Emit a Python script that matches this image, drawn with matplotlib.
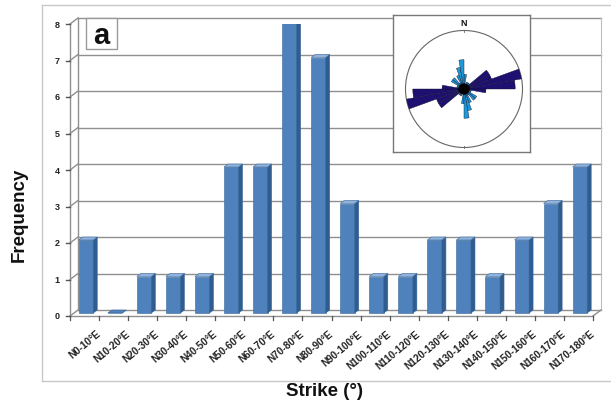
import numpy as np
import matplotlib
matplotlib.use("Agg")
import matplotlib.pyplot as plt
from matplotlib.patches import Polygon, Rectangle, Circle
from matplotlib.lines import Line2D

plt.rcParams['font.family'] = ['Liberation Sans', 'DejaVu Sans']

# ---------------- data ----------------
categories = ["N0-10°E", "N10-20°E", "N20-30°E", "N30-40°E", "N40-50°E", "N50-60°E",
              "N60-70°E", "N70-80°E", "N80-90°E", "N90-100°E", "N100-110°E", "N110-120°E",
              "N120-130°E", "N130-140°E", "N140-150°E", "N150-160°E", "N160-170°E", "N170-180°E"]
frequency = [2, 0, 1, 1, 1, 4, 4, 8, 7, 3, 1, 1, 2, 2, 1, 2, 3, 4]
bin_start_deg = [0, 10, 20, 30, 40, 50, 60, 70, 80, 90, 100, 110, 120, 130, 140, 150, 160, 170]
dark_set = [50, 60, 70, 80, 90]   # bins drawn in the dark colour of the rose
y_ticks = [0, 1, 2, 3, 4, 5, 6, 7, 8]

W, H = 611, 406
fig = plt.figure(figsize=(W / 100, H / 100), dpi=100)

def fx(px): return px / W
def fy(py): return 1 - py / H

# outer frame
frame_col = '#c8c8c8'
fig.add_artist(Line2D([fx(42), fx(42)], [fy(6), fy(382)], color=frame_col, lw=1.0))
fig.add_artist(Line2D([fx(42), 1], [fy(6), fy(6)], color=frame_col, lw=1.0))
fig.add_artist(Line2D([fx(42), 1], [fy(382), fy(382)], color=frame_col, lw=1.0))

# main axes = front plane
ax = fig.add_axes([fx(70), fy(317), (593 - 70) / W, (317 - 25) / H])
x0, x1 = -0.55, 17.45
ax.set_xlim(x0, x1)
ax.set_ylim(0, 8)
ax.patch.set_alpha(0)
for s in ax.spines.values():
    s.set_visible(False)

grid_col = '#8f8f8f'
ppx = (593 - 70) / 18.0   # px per category
ppy = (317 - 25) / 8.0    # px per unit
dxw, dyw = 8 / ppx, 6 / ppy  # wall depth

def L(xs, ys, **kw):
    ax.add_line(Line2D(xs, ys, clip_on=False, **kw))

for y in y_ticks:
    L([x0 + dxw, x1 + dxw], [y + dyw, y + dyw], color=grid_col, lw=1.0, zorder=1)
    L([x0, x0 + dxw], [y, y + dyw], color=grid_col, lw=1.0, zorder=1)
L([x0 + dxw, x0 + dxw], [dyw, 8 + dyw], color=grid_col, lw=1.0, zorder=1)
L([x1 + dxw, x1 + dxw], [dyw, 8 + dyw], color='#bdbdbd', lw=0.8, zorder=1)
L([x0, x0], [0, 8], color=grid_col, lw=1.0, zorder=1)
L([x0, x1], [0, 0], color=grid_col, lw=1.0, zorder=1)
L([x1, x1 + dxw], [0, dyw], color=grid_col, lw=1.0, zorder=1)

# y ticks
for y in y_ticks:
    L([x0 - 4 / ppx, x0], [y, y], color='#555555', lw=1.0, zorder=1)
    ax.text(x0 - 10 / ppx, y, str(y), ha='right', va='center', fontsize=6.5,
            fontweight='bold', color='#222222')
ax.set_xticks([])
ax.set_yticks([])

# x ticks at category boundaries
for i in range(len(categories) + 1):
    xb = x0 + i
    L([xb, xb], [0, -4 / ppy], color='#555555', lw=0.9, zorder=1)

# x tick labels
for i, lab in enumerate(categories):
    ax.text(i + 10 / ppx, -12 / ppy, lab, rotation=40, ha='right', va='top',
            rotation_mode='anchor', fontsize=7.2, fontweight='bold', color='#222222')

# 3D bars
front_c = '#4f81bd'
side_c = '#2f5d8f'
top_c = '#8fb3de'
edge_c = '#3a6798'
bw = 0.5
dxb, dyb = 4 / ppx, 3 / ppy
yoff = 3 / ppy
xs = np.arange(len(categories))
bars = ax.bar(xs, frequency, width=bw, bottom=yoff, color=front_c, edgecolor=edge_c,
              linewidth=0.4, zorder=3)
for xi, v in zip(xs, frequency):
    l, r = xi - bw / 2, xi + bw / 2
    b, t = yoff, yoff + v
    side = Polygon([[r, b], [r + dxb, b + dyb], [r + dxb, t + dyb], [r, t]],
                   closed=True, facecolor=side_c, edgecolor=edge_c, lw=0.4, zorder=3)
    top = Polygon([[l, t], [r, t], [r + dxb, t + dyb], [l + dxb, t + dyb]],
                  closed=True, facecolor=top_c if v > 0 else front_c, edgecolor=edge_c,
                  lw=0.4, zorder=4)
    ax.add_patch(side)
    ax.add_patch(top)

# axis labels
fig.text(fx(19), fy(215), "Frequency", rotation=90, ha='center', va='center',
         fontsize=13.5, fontweight='bold', color='#111111')
fig.text(fx(324), fy(392), "Strike (°)", ha='center', va='center',
         fontsize=13.5, fontweight='bold', color='#111111')

# "a" box
fig.add_artist(Rectangle((fx(86), fy(50)), (117 - 86) / W, (50 - 19) / H,
                         transform=fig.transFigure, facecolor='white',
                         edgecolor='#9a9a9a', lw=1.0, zorder=5))
fig.text(fx(101.5), fy(36), "a", ha='center', va='center', fontsize=21,
         fontweight='bold', color='#111111', zorder=6)

# inset box
box = fig.add_axes([fx(393), fy(153), (530 - 393) / W, (153 - 16) / H])
box.set_xticks([]); box.set_yticks([])
box.set_facecolor('white')
for s in box.spines.values():
    s.set_edgecolor('#777777'); s.set_linewidth(1.0)

cx, cy, R = 464, 90, 58.5
pax = fig.add_axes([fx(cx - R), fy(cy + R), 2 * R / W, 2 * R / H], projection='polar')
pax.set_theta_zero_location('N')
pax.set_theta_direction(-1)
pax.set_ylim(0, 1)
pax.set_xticks([]); pax.set_yticks([])
pax.grid(False)
pax.spines['polar'].set_edgecolor('#666666')
pax.spines['polar'].set_linewidth(0.8)
pax.patch.set_alpha(0)

fmax = max(frequency)
for a, v in zip(bin_start_deg, frequency):
    if v == 0:
        continue
    col = '#1e1070' if a in dark_set else '#1f9ad8'
    for base in (a, a + 180):
        pax.bar(np.deg2rad(base + 5), v / fmax, width=np.deg2rad(10), bottom=0,
                color=col, edgecolor='#101030', linewidth=0.3, zorder=3)
pax.add_patch(Circle((0, 0), 0.085, transform=pax.transData._b, color='black', zorder=5))
pax.plot([0, 0], [0.97, 1.0], color='#666666', lw=0.6, clip_on=False)
pax.plot([np.pi, np.pi], [0.97, 1.0], color='#666666', lw=0.6, clip_on=False)
fig.text(fx(cx), fy(24), "N", ha='center', va='center', fontsize=6.5,
         fontweight='bold', color='#111111')

fig.savefig("out.png", dpi=100)
